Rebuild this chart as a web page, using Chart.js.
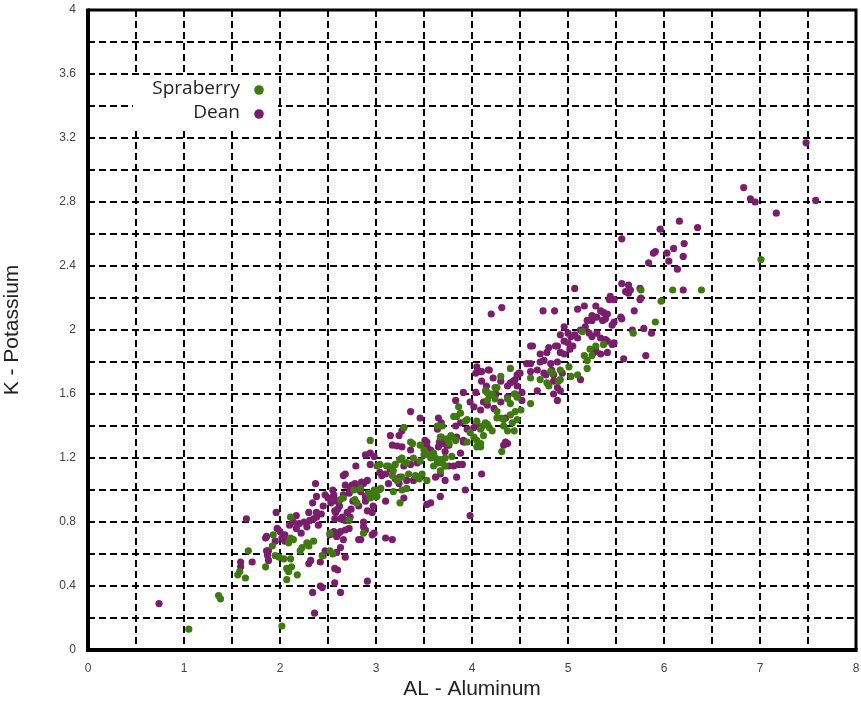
<!DOCTYPE html>
<html>
<head>
<meta charset="utf-8">
<script src="https://cdn.jsdelivr.net/npm/chart.js@4/dist/chart.umd.min.js"></script>
<style>
  html, body { margin: 0; padding: 0; background: #fff; }
  #wrap { width: 861px; height: 706px; }
</style>
</head>
<body>
<div id="wrap"><canvas id="chart" width="861" height="706"></canvas></div>
<script>
// series names and colours
const seriesNames = ['Spraberry', 'Dean'];
const seriesColors = ['#3f7a10', '#7b1d6d'];

// axis setup
const xTitle = 'AL - Aluminum';
const yTitle = 'K - Potassium';
const xRange = [0, 8];
const yRange = [0, 4];

// [AL, K]
const spraberryPoints = [
  [1.05,0.13],[1.36,0.34],[1.38,0.32],[2.02,0.15],
  [1.56,0.47],[1.64,0.45],[1.58,0.49],[1.67,0.62],[1.85,0.52],
  [1.93,0.72],[1.92,0.65],[1.95,0.59],[1.99,0.58],[2.04,0.57],[2.11,0.57],[2.12,0.52],[2.07,0.51],[2.09,0.49],[2.18,0.47],[2.07,0.44],
  [2.09,0.67],[2.14,0.69],[2.11,0.70],[2.11,0.83],[2.21,0.62],[2.23,0.64],[2.28,0.67],[2.35,0.68],[2.30,0.65],
  [2.44,0.59],[2.52,0.62],[2.55,0.60],[2.52,0.73],
  [2.66,0.95],[2.78,0.94],[2.80,0.92],[2.72,0.81],[2.87,0.73],[2.63,0.94],
  [2.92,0.98],[2.96,0.97],[2.99,0.96],[3.03,1.00],[2.94,0.95],[2.98,1.00],[3.01,0.96],[3.05,1.01],[2.84,1.01],[2.77,1.00],
  [2.94,1.31],[3.04,1.16],[3.13,1.15],[3.20,1.16],[3.25,1.19],[3.31,1.17],[3.01,1.15],[3.11,1.15],[3.18,1.12],
  [3.22,1.06],[3.17,1.09],[3.27,1.08],[3.34,1.10],[3.41,1.09],[3.45,1.07],[3.48,1.10],[3.53,1.06],
  [3.18,0.99],[3.27,1.00],[3.32,1.01],[3.25,0.92],
  [3.46,1.28],[3.50,1.22],[3.60,1.23],[3.57,1.20],[3.67,1.19],[3.79,1.21],[3.36,1.30],[4.09,1.29],[4.05,1.31],
  [3.50,1.25],[3.55,1.22],[3.62,1.20],[3.64,1.17],[3.69,1.17],[3.72,1.15],[3.60,1.15],[3.67,1.12],[3.72,1.20],
  [3.25,1.19],[3.32,1.17],[3.39,1.20],[3.46,1.18],[3.38,1.29],[3.29,1.39],[3.27,1.20],
  [3.64,1.40],[3.67,1.33],[3.74,1.32],[3.79,1.33],[3.69,1.40],[3.78,1.34],[3.83,1.31],[3.76,1.29],
  [3.84,1.46],[3.86,1.52],[3.88,1.48],[3.81,1.46],[3.93,1.43],[3.95,1.44],[3.98,1.36],
  [3.95,1.30],[4.05,1.27],[4.02,1.33],[4.09,1.27],
  [4.05,1.43],[4.14,1.42],[4.18,1.39],[4.09,1.38],[4.12,1.34],[4.21,1.37],[4.11,1.40],[4.16,1.41],
  [4.26,1.45],[4.33,1.44],[4.40,1.47],[4.45,1.49],[4.47,1.44],[4.42,1.42],[4.33,1.40],[4.26,1.49],[4.30,1.45],
  [4.31,1.24],[4.37,1.37],[4.44,1.37],[4.51,1.50],
  [4.14,1.62],[4.21,1.60],[4.16,1.56],[4.18,1.59],[4.26,1.64],[4.44,1.60],[4.47,1.58],[4.37,1.57],[4.40,1.54],
  [4.30,1.71],[4.40,1.76],[4.24,1.64],[4.16,1.61],[4.24,1.57],
  [4.61,1.54],[4.61,1.70],[4.78,1.67],[4.80,1.65],[4.71,1.69],[4.90,1.68],
  [4.92,1.69],[5.10,1.72],[5.01,1.77],[5.03,1.71],[4.92,1.75],[4.82,1.74],[4.84,1.73],
  [5.15,1.99],[5.23,1.88],[5.29,1.90],[5.37,1.91],[5.17,1.84],[5.20,1.81],[5.25,1.84],[5.20,1.76],
  [5.68,1.98],[5.91,2.05],[5.97,2.18],[5.76,2.25],[6.09,2.25],[6.39,2.25],[7.01,2.44]
];

const deanPoints = [
  [0.74,0.29],
  [1.59,0.55],[1.59,0.52],[1.71,0.55],[1.65,0.82],[1.85,0.70],[1.86,0.62],[1.88,0.56],[1.86,0.71],[1.88,0.62],[1.87,0.59],
  [1.96,0.86],[1.95,0.68],[2.05,0.68],[1.97,0.76],[2.00,0.74],[2.02,0.70],[2.05,0.72],
  [2.17,0.84],[2.10,0.78],[2.14,0.80],[2.17,0.76],[2.20,0.79],[2.25,0.80],[2.28,0.77],[2.31,0.81],[2.35,0.82],[2.40,0.78],[2.43,0.85],[2.38,0.83],[2.30,0.86],[2.22,0.73],
  [2.30,0.54],[2.32,0.56],[2.42,0.55],
  [2.34,0.36],[2.42,0.40],[2.44,0.39],[2.57,0.42],[2.63,0.36],[2.60,0.50],[2.36,0.23],[2.91,0.43],
  [2.45,0.59],[2.47,0.62],[2.68,0.58],[2.63,0.64],[2.59,0.61],[2.57,0.51],
  [2.37,1.04],[2.38,0.96],[2.34,0.92],[2.38,0.86],
  [2.45,0.90],[2.50,0.95],[2.53,0.92],[2.56,0.97],[2.60,0.88],[2.58,0.86],[2.47,0.97],[2.55,1.00],
  [2.68,1.10],[2.66,1.09],[2.79,1.15],[2.94,1.16],
  [2.68,1.03],[2.73,1.01],[2.75,1.03],[2.80,1.02],[2.84,0.99],[2.87,1.04],[2.78,1.04],[2.85,1.05],[2.91,1.06],
  [2.72,0.98],[2.76,0.93],[2.82,0.90],[2.70,0.86],[2.65,0.83],[2.74,0.88],
  [2.89,0.93],[2.91,0.87],[2.96,0.86],[2.89,0.96],[2.97,0.90],
  [2.56,0.96],[2.59,0.93],[2.57,0.87],[2.62,0.90],[2.66,0.97],
  [2.57,0.82],[2.63,0.82],[2.68,0.81],[2.73,0.83],[2.87,0.80],[2.89,0.75],[2.96,0.72],[2.82,0.69],[2.98,0.73],
  [2.61,0.73],[2.52,0.72],[2.56,0.74],[2.68,0.75],[2.72,0.76],[2.66,0.69],[2.59,0.71],[2.63,0.74],
  [2.87,0.77],[2.84,0.69],[3.10,0.70],[3.17,0.69],
  [2.89,1.22],[2.94,1.23],[2.98,1.21],
  [3.04,1.11],[3.06,1.09],[3.10,1.10],[3.13,1.04],[3.24,1.04],[3.15,1.13],[3.20,1.07],[3.29,1.15],[3.36,1.16],[3.43,1.17],[3.25,1.08],[3.32,1.06],[3.39,1.06],[3.46,1.08],
  [3.10,0.93],[3.29,0.95],[3.57,0.92],[3.53,0.91],[3.67,0.96],[3.98,0.84],
  [3.17,1.28],[3.22,1.275],[3.27,1.27],[3.36,1.25],[3.51,1.28],[3.53,1.30],[3.65,1.27],[3.76,1.28],[3.72,1.24],[3.91,1.30],
  [3.15,1.34],[3.24,1.34],[3.27,1.37],[3.29,1.39],[3.36,1.49],[3.46,1.45],
  [3.51,1.31],[3.53,1.27],[3.57,1.25],
  [3.65,1.45],[3.68,1.42],[3.64,1.38],[3.68,1.33],[3.66,1.30],[3.71,1.29],[3.74,1.28],
  [3.62,1.08],[3.67,1.10],[3.72,1.06],[3.76,1.15],[3.86,1.16],[3.84,1.08],[3.72,1.15],[3.81,1.15],[3.90,1.16],[4.10,1.10],[3.93,1.00],
  [3.83,1.40],[3.84,1.33],[3.91,1.31],[3.88,1.23],[3.93,1.30],
  [3.95,1.38],[4.02,1.39],[4.05,1.41],[3.88,1.42],
  [4.33,1.28],[4.37,1.29],[4.35,1.30],[4.35,1.45],
  [3.83,1.56],[3.91,1.61],[4.02,1.52],[4.09,1.50],[4.16,1.53],[4.23,1.51],[4.30,1.55],[4.37,1.58],[4.52,1.56],[4.04,1.61],
  [4.05,1.77],[4.09,1.74],[4.18,1.75],[4.04,1.73],[4.10,1.74],[4.17,1.75],
  [4.43,1.68],[4.49,1.73],[4.47,1.65],[4.30,1.68],[4.37,1.65],[4.40,1.67],[4.45,1.69],[4.47,1.72],[4.50,1.73],[4.45,1.60],[4.52,1.61],
  [4.10,1.68],[4.15,1.65],[4.25,1.60],[4.22,1.70],[3.98,1.55],[4.12,1.55],
  [4.61,1.90],[4.71,1.85],[4.78,1.86],[4.89,1.90],[4.61,1.74],[4.68,1.75],[4.75,1.73],[4.83,1.75],[4.61,1.79],[4.71,1.80],[4.68,1.62],[4.89,1.56],
  [4.57,1.79],[4.63,1.90],[4.80,1.89],[4.87,1.90],[4.75,1.81],[4.82,1.79],[4.89,1.80],[4.77,1.72],[4.85,1.72],
  [4.92,1.62],[4.85,1.68],[5.13,1.69],[4.94,1.73],[4.89,1.64],[4.85,1.60],
  [4.20,2.10],[4.31,2.14],[4.74,2.12],[4.86,2.12],[5.07,2.26],
  [5.10,2.13],[5.17,2.15],[5.29,2.15],[5.34,2.12],[5.37,2.11],[5.41,2.10],[5.25,2.09],[5.20,2.06],[5.25,2.06],[5.30,2.08],[5.36,2.06],[5.39,2.07],
  [5.55,2.08],[5.56,2.07],[5.69,2.12],[5.48,2.05],[5.46,2.03],
  [5.13,2.00],[5.18,2.02],[5.22,1.98],[5.25,1.96],[5.30,1.98],[5.34,1.95],[5.39,1.94],[5.41,1.93],[5.48,1.92],
  [5.67,2.00],[5.79,2.01],[5.87,1.98],[5.58,1.82],[5.81,1.84],
  [4.96,2.02],[5.00,1.98],[5.03,1.96],[4.92,1.97],[4.96,1.93],[5.00,1.92],[5.07,1.97],[5.10,1.95],[5.05,1.90],[5.02,1.88],
  [4.92,1.86],[4.96,1.85],[5.29,1.87],[5.34,1.85],[5.41,1.86],[5.27,1.86],[5.46,1.91],
  [5.44,2.21],[5.48,2.19],[5.43,2.19],
  [5.56,2.29],[5.63,2.28],[5.65,2.25],[5.60,2.24],[5.63,2.23],[5.75,2.26],[5.75,2.19],[5.76,2.20],
  [5.56,2.57],[5.96,2.63],[6.16,2.68],[6.35,2.64],[5.89,2.48],[5.91,2.49],[6.03,2.48],[6.10,2.51],[6.21,2.54],[5.84,2.42],[6.05,2.43],[6.14,2.38],[6.20,2.46],[6.20,2.25],
  [6.83,2.89],[6.90,2.82],[6.95,2.80],[7.17,2.73],[7.48,3.17],[7.58,2.81]
];

const toXY = (pts) => pts.map((p) => ({ x: p[0], y: p[1] }));

// frame: thick black box round the plot area
const framePlugin = {
  id: 'frame',
  afterDatasetsDraw(chart) {
    const a = chart.chartArea;
    const ctx = chart.ctx;
    ctx.save();
    ctx.strokeStyle = '#000';
    ctx.setLineDash([]);
    ctx.lineWidth = 3;
    ctx.beginPath();
    ctx.moveTo(a.left, a.top);
    ctx.lineTo(a.right, a.top);
    ctx.lineTo(a.right, a.bottom);
    ctx.stroke();
    ctx.lineWidth = 4;
    ctx.beginPath();
    ctx.moveTo(a.left, a.top - 1.5);
    ctx.lineTo(a.left, a.bottom);
    ctx.lineTo(a.right + 1.5, a.bottom);
    ctx.stroke();
    ctx.restore();
  }
};

// legend drawn inside the plot, text on the left, dot on the right
const insideLegend = {
  id: 'insideLegend',
  afterDatasetsDraw(chart) {
    const a = chart.chartArea;
    const ctx = chart.ctx;
    const bx = a.left + 45, by = a.top + 66;
    ctx.save();
    ctx.fillStyle = '#fff';
    ctx.fillRect(bx, by, 145, 52);
    ctx.font = '19px "Open Sans", sans-serif';
    ctx.textAlign = 'right';
    ctx.textBaseline = 'middle';
    seriesNames.forEach((name, i) => {
      const y = by + 13 + i * 24;
      ctx.fillStyle = '#222';
      ctx.fillText(name, bx + 107, y);
      ctx.fillStyle = seriesColors[i];
      ctx.beginPath();
      ctx.arc(bx + 126, y + 1, 4.8, 0, Math.PI * 2);
      ctx.fill();
    });
    ctx.restore();
  }
};

const isMultiple = (v, step) => Math.abs(v / step - Math.round(v / step)) < 1e-6;

new Chart(document.getElementById('chart'), {
  type: 'scatter',
  data: {
    datasets: [
      { label: seriesNames[0], data: toXY(spraberryPoints), backgroundColor: seriesColors[0], borderWidth: 0, pointRadius: 3.6, pointHoverRadius: 3.6 },
      { label: seriesNames[1], data: toXY(deanPoints), backgroundColor: seriesColors[1], borderWidth: 0, pointRadius: 3.6, pointHoverRadius: 3.6 }
    ]
  },
  options: {
    responsive: false,
    animation: false,
    events: [],
    layout: { padding: { left: 0, right: 5, top: 10, bottom: 0 } },
    plugins: { legend: { display: false }, tooltip: { enabled: false } },
    scales: {
      x: {
        type: 'linear',
        min: xRange[0],
        max: xRange[1],
        afterFit: (s) => { s.height = 56; s.paddingLeft = 0; s.paddingRight = 0; },
        grid: { color: '#000', lineWidth: 2, drawTicks: false },
        border: { display: false, dash: [7, 4] },
        ticks: {
          stepSize: 0.5,
          padding: 11,
          color: '#444',
          font: { family: '"Liberation Sans", Arial, sans-serif', size: 12 },
          callback: (v) => (isMultiple(v, 1) ? String(Math.round(v)) : '')
        },
        title: {
          display: true,
          text: xTitle,
          color: '#222',
          padding: { top: 0, bottom: 4 },
          font: { family: '"Liberation Sans", Arial, sans-serif', size: 21 }
        }
      },
      y: {
        type: 'linear',
        min: yRange[0],
        max: yRange[1],
        afterFit: (s) => { s.width = 88; s.paddingTop = 0; s.paddingBottom = 0; },
        grid: { color: '#000', lineWidth: 2, drawTicks: false },
        border: { display: false, dash: [7, 4] },
        ticks: {
          stepSize: 0.2,
          padding: 12,
          color: '#444',
          font: { family: '"Liberation Sans", Arial, sans-serif', size: 12 },
          callback: (v) => (isMultiple(v, 0.4) ? String(Number(v.toFixed(1))) : '')
        },
        title: {
          display: true,
          text: yTitle,
          color: '#222',
          padding: { top: 0, bottom: 7 },
          font: { family: '"Liberation Sans", Arial, sans-serif', size: 21 }
        }
      }
    }
  },
  plugins: [framePlugin, insideLegend]
});
</script>
</body>
</html>
